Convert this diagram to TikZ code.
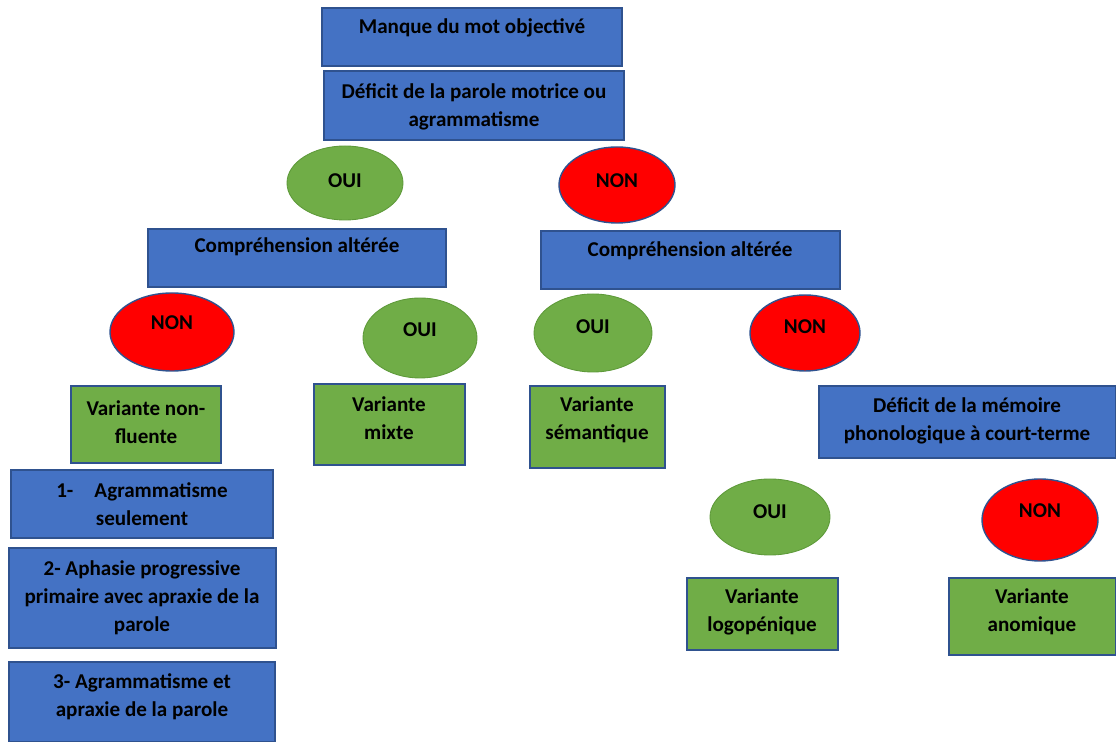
\documentclass[tikz,border=0pt]{standalone}
\usepackage{fontspec}
\setmainfont{Carlito}
\usepackage{tikz}
\definecolor{bleu}{HTML}{4472C4}
\definecolor{bleubord}{HTML}{2F528F}
\definecolor{vert}{HTML}{70AD47}
\definecolor{vertbord}{HTML}{5E9A3A}
\definecolor{rouge}{HTML}{FF0000}
\tikzset{
  boitebleue/.style={fill=bleu,draw=bleubord,line width=0.6pt},
  boiteverte/.style={fill=vert,draw=bleubord,line width=0.6pt},
  oui/.style={fill=vert,draw=vertbord,line width=0.5pt},
  non/.style={fill=rouge,draw=bleubord,line width=0.8pt},
  txt/.style={font=\fontsize{12}{15.9}\selectfont\bfseries,align=center,inner sep=0pt}
}

\begin{document}
\begin{tikzpicture}[x=0.02cm,y=-0.02cm]
        \useasboundingbox (0,0) rectangle (1116,742);
        % boites bleues
        \draw[boitebleue] (322,8) rectangle (622,66);
        \node[txt] (manque) at (472,28) {Manque du mot objectivé};
        \draw[boitebleue] (324,71) rectangle (624,140);
        \node[txt] (deficit) at (474,107) {Déficit de la parole motrice ou\\agrammatisme};
        \draw[boitebleue] (148,229) rectangle (446,287);
        \node[txt] (compG) at (297,247) {Compréhension altérée};
        \draw[boitebleue] (541,231) rectangle (840,289);
        \node[txt] (compD) at (690,251) {Compréhension altérée};
        \draw[boitebleue] (819,386) rectangle (1116,458);
        \node[txt] (memoire) at (967,421) {Déficit de la mémoire\\phonologique à court-terme};
        \draw[boitebleue] (11,470) rectangle (273,538);
        \node[txt] (agr) at (142,504) {1-\hspace{1em}Agrammatisme\\seulement};
        \draw[boitebleue] (9,548) rectangle (276,648);
        \node[txt] (aphasie) at (142,598) {2- Aphasie progressive\\primaire avec apraxie de la\\parole};
        \draw[boitebleue] (9,662) rectangle (275,742);
        \node[txt] (apraxie) at (142,697) {3- Agrammatisme et\\apraxie de la parole};
        % ovales
        \foreach \x/\y/\rx/\ry/\ty/\lab/\sty in {
            345/183/58/37/181/OUI/oui, 617/185/58/38/181/NON/non,
            172/332/62/39/323/NON/non, 420/338/57/40/330/OUI/oui,
            593/333/59/39/327/OUI/oui, 805/333/55/38/327/NON/non,
            770/517/60/38/512/OUI/oui, 1040/520/58/41/511/NON/non}
        {
        \draw[\sty] (\x,\y) ellipse [x radius=\rx, y radius=\ry];
        \node[txt] (o-\x) at (\x,\ty) {\lab};
        }
        % boites vertes
        \draw[boiteverte] (71,386) rectangle (221,463);
        \node[txt] (nonfl) at (146,422) {Variante non-\\fluente};
        \draw[boiteverte] (314,384) rectangle (465,465);
        \node[txt] (mixte) at (389,418) {Variante\\mixte};
        \draw[boiteverte] (530,386) rectangle (665,468);
        \node[txt] (seman) at (597,420) {Variante\\sémantique};
        \draw[boiteverte] (687,578) rectangle (838,650);
        \node[txt] (logo) at (762,612) {Variante\\logopénique};
        \draw[boiteverte] (949,578) rectangle (1116,655);
        \node[txt] (anom) at (1032,612) {Variante\\anomique};
\end{tikzpicture}
\end{document}
